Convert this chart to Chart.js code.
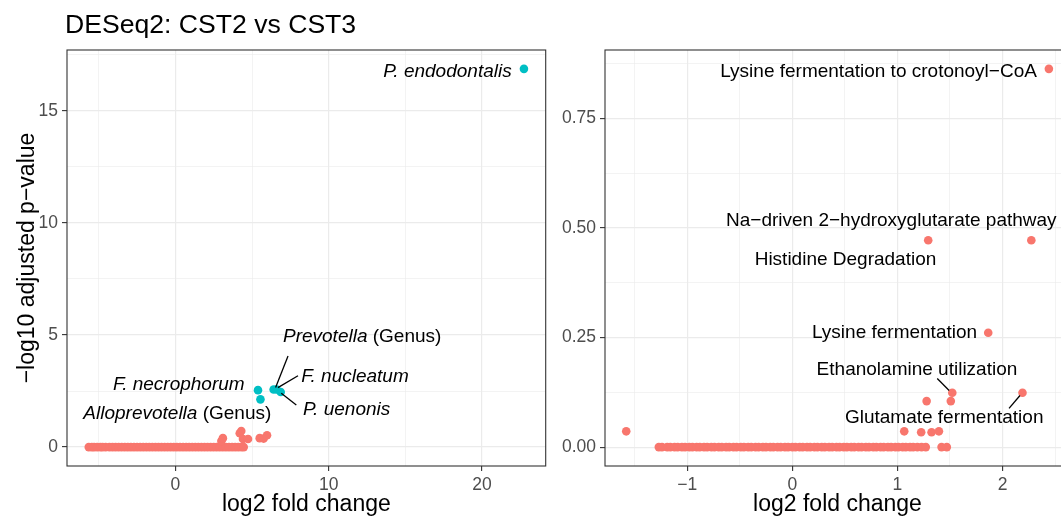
<!DOCTYPE html>
<html>
<head>
<meta charset="utf-8">
<script src="https://cdn.jsdelivr.net/npm/chart.js@4/dist/chart.umd.min.js"></script>
<style>
  html, body { margin: 0; padding: 0; background: #fff; width: 1061px; height: 520px; overflow: hidden; }
  #left { position: absolute; left: 0; top: 0; }
  #right { position: absolute; left: 555px; top: 0; }
</style>
</head>
<body>
<canvas id="left" width="550" height="520"></canvas>
<canvas id="right" width="520" height="520"></canvas>
<script>
// ====== DATA: left panel (taxa) ======
const TITLE = "DESeq2: CST2 vs CST3";

// non-significant taxa lying on the zero line
const taxaZeroX = [-5.65, -5.45, -5.3, -5.1, -4.9, -4.75, -4.55, -4.3, -4.1, -3.9, -3.7, -3.5, -3.3,
  -3.1, -2.9, -2.7, -2.5, -2.3, -2.1, -1.9, -1.7, -1.5, -1.3, -1.1, -0.9, -0.7, -0.5, -0.3, -0.1,
  0.1, 0.3, 0.5, 0.7, 0.9, 1.1, 1.3, 1.5, 1.7, 1.9, 2.1, 2.3, 2.5, 2.7, 2.9, 3.1, 3.3, 3.5, 3.7,
  3.9, 4.1, 4.3, 4.46];
// non-significant taxa slightly above zero
const taxaLowX = [3.0, 3.1, 4.2, 4.3, 4.41, 4.74, 5.5, 5.76, 5.98];
const taxaLowY = [0.27, 0.40, 0.62, 0.72, 0.36, 0.36, 0.40, 0.38, 0.53];
// significant taxa
const taxaSigNames = ["P. endodontalis", "F. necrophorum", "Alloprevotella (Genus)", "Prevotella (Genus)", "F. nucleatum", "P. uenonis"];
const taxaSigX = [22.74, 5.39, 5.55, 6.41, 6.61, 6.87];
const taxaSigY = [16.87, 2.54, 2.13, 2.57, 2.57, 2.46];

// ====== DATA: right panel (pathways) ======
const pathZeroX = [-1.27, -1.24, -1.19, -1.16, -1.12, -1.09, -1.05, -1.02, -0.98, -0.95, -0.91,
  -0.88, -0.84, -0.81, -0.77, -0.74, -0.70, -0.67, -0.63, -0.60, -0.56, -0.53, -0.49, -0.46,
  -0.42, -0.39, -0.35, -0.32, -0.28, -0.25, -0.21, -0.18, -0.14, -0.11, -0.07, -0.04, 0.0, 0.03,
  0.07, 0.10, 0.14, 0.17, 0.21, 0.24, 0.28, 0.31, 0.35, 0.38, 0.42, 0.45, 0.49, 0.52, 0.56, 0.59,
  0.63, 0.66, 0.70, 0.73, 0.77, 0.80, 0.84, 0.87, 0.91, 0.94, 0.98, 1.01, 1.05, 1.08, 1.12, 1.15,
  1.19, 1.23, 1.27, 1.42, 1.47];
const pathOtherX = [-1.58, 1.065, 1.226, 1.325, 1.395, 1.278, 1.508];
const pathOtherY = [0.036, 0.036, 0.034, 0.034, 0.036, 0.105, 0.105];
const pathNamedNames = ["Lysine fermentation to crotonoyl\u2212CoA", "Na\u2212driven 2\u2212hydroxyglutarate pathway",
  "Histidine Degradation", "Lysine fermentation", "Ethanolamine utilization", "Glutamate fermentation"];
const pathNamedX = [2.441, 2.274, 1.293, 1.864, 1.522, 2.19];
const pathNamedY = [0.863, 0.472, 0.472, 0.261, 0.124, 0.124];

// ====== AXES ======
const leftXTicks = [-5, 0, 5, 10, 15, 20];
const leftXMajor = [0, 10, 20];
const leftYTicks = [0, 2.5, 5, 7.5, 10, 12.5, 15, 17.5];
const leftYMajor = [0, 5, 10, 15];
const rightXTicks = [-1.5, -1, -0.5, 0, 0.5, 1, 1.5, 2, 2.5];
const rightXMajor = [-1, 0, 1, 2];
const rightYTicks = [0, 0.125, 0.25, 0.375, 0.5, 0.625, 0.75, 0.875];
const rightYMajor = [0, 0.25, 0.5, 0.75];

// ====== LABELS (anchor in data units) ======
// [parts, x, y, align]; parts = [[text, italic], ...]
const leftLabels = [
  [[["P. endodontalis", true]], 21.94, 16.52, "right"],
  [[["Prevotella", true], [" (Genus)", false]], 7.02, 4.67, "left"],
  [[["F. nucleatum", true]], 8.22, 2.91, "left"],
  [[["P. uenonis", true]], 8.32, 1.43, "left"],
  [[["F. necrophorum", true]], 4.52, 2.54, "right"],
  [[["Alloprevotella", true], [" (Genus)", false]], 6.26, 1.24, "right"],
];
const leftSegments = [
  [7.35, 4.06, 6.54, 2.66],
  [8.0, 3.18, 6.69, 2.65],
  [7.89, 1.88, 6.91, 2.40],
];
const rightLabels = [
  [[[pathNamedNames[0], false]], 2.327, 0.8455, "right"],
  [[[pathNamedNames[1], false]], 0.942, 0.5036, "center"],
  [[[pathNamedNames[2], false]], 0.506, 0.4164, "center"],
  [[[pathNamedNames[3], false]], 1.758, 0.25, "right"],
  [[[pathNamedNames[4], false]], 1.186, 0.1634, "center"],
  [[[pathNamedNames[5], false]], 1.445, 0.0556, "center"],
];
const rightSegments = [
  [1.379, 0.1566, 1.492, 0.1292],
  [2.062, 0.0882, 2.166, 0.1178],
];

const RED = "#F8766D";
const CYAN = "#00BFC4";
const FONT = "'Liberation Sans', Arial, sans-serif";
Chart.defaults.font.family = FONT;

const pts = (xs, ys) => xs.map((x, i) => ({ x, y: ys ? ys[i] : 0 }));
const fmtMinus = (v) => String(v).replace("-", "\u2212");

// panel frame, repel segments and labels
const decor = {
  id: "decor",
  afterDraw(chart, args, opts) {
    const { ctx, chartArea: a, scales: { x, y } } = chart;
    ctx.save();
    ctx.strokeStyle = "#333333";
    ctx.lineWidth = 1.1;
    ctx.strokeRect(a.left, a.top, a.right - a.left, a.bottom - a.top);

    ctx.strokeStyle = "#000";
    ctx.lineWidth = 1.3;
    for (const [x1, y1, x2, y2] of opts.segments) {
      ctx.beginPath();
      ctx.moveTo(x.getPixelForValue(x1), y.getPixelForValue(y1));
      ctx.lineTo(x.getPixelForValue(x2), y.getPixelForValue(y2));
      ctx.stroke();
    }

    ctx.fillStyle = "#000";
    ctx.textBaseline = "alphabetic";
    ctx.textAlign = "left";
    for (const [parts, lx, ly, align] of opts.labels) {
      const fonts = parts.map(p => (p[1] ? "italic " : "") + "19px " + FONT);
      let total = 0;
      parts.forEach((p, i) => { ctx.font = fonts[i]; total += ctx.measureText(p[0]).width; });
      let px = x.getPixelForValue(lx);
      if (align === "right") px -= total;
      else if (align === "center") px -= total / 2;
      const py = y.getPixelForValue(ly);
      parts.forEach((p, i) => {
        ctx.font = fonts[i];
        ctx.fillText(p[0], px, py);
        px += ctx.measureText(p[0]).width;
      });
    }

    if (opts.title) {
      ctx.font = "26.6px " + FONT;
      ctx.fillText(opts.title, 65, 33);
    }
    ctx.restore();
  }
};

function axis(ticks, major, min, max, fmt, fit, title) {
  return {
    type: "linear",
    min, max,
    afterBuildTicks: (s) => { s.ticks = ticks.map(v => ({ value: v })); },
    afterFit: fit,
    border: { display: false },
    grid: {
      color: "#ebebeb",
      lineWidth: (c) => (c.tick && major.includes(c.tick.value) ? 1.2 : 0.6),
      drawTicks: true,
      tickLength: 5,
      tickWidth: 1.1,
      tickColor: (c) => (c.tick && major.includes(c.tick.value) ? "#333333" : "rgba(0,0,0,0)"),
    },
    ticks: {
      autoSkip: false,
      maxRotation: 0,
      padding: 4,
      color: "#4d4d4d",
      font: { size: 17.5 },
      callback: (v) => (major.includes(v) ? fmt(v) : ""),
    },
    title: title,
  };
}

const xTitle = {
  display: true, text: "log2 fold change", color: "#000",
  font: { size: 23 }, padding: { top: 0, bottom: 2 },
};

new Chart(document.getElementById("left"), {
  type: "scatter",
  data: {
    datasets: [
      { data: pts(taxaZeroX).concat(pts(taxaLowX, taxaLowY)), backgroundColor: RED },
      { data: pts(taxaSigX, taxaSigY), backgroundColor: CYAN },
    ],
  },
  options: {
    responsive: false,
    animation: false,
    layout: { padding: { top: 50, right: 4, left: 0, bottom: 0 } },
    elements: { point: { radius: 4.3, borderWidth: 0 } },
    plugins: {
      legend: { display: false },
      tooltip: { enabled: false },
      decor: { labels: leftLabels, segments: leftSegments, title: TITLE },
    },
    scales: {
      x: axis(leftXTicks, leftXMajor, -7.07, 24.16, (v) => String(v), (s) => { s.height = 54; }, xTitle),
      y: axis(leftYTicks, leftYMajor, -0.843, 17.71, (v) => String(v), (s) => { s.width = 67; }, {
        display: true, text: "\u2212log10 adjusted p\u2212value", color: "#000",
        font: { size: 23 }, padding: { top: 14, bottom: 0 },
      }),
    },
  },
  plugins: [decor],
});

new Chart(document.getElementById("right"), {
  type: "scatter",
  data: {
    datasets: [
      { data: pts(pathZeroX).concat(pts(pathOtherX, pathOtherY), pts(pathNamedX, pathNamedY)), backgroundColor: RED },
    ],
  },
  options: {
    responsive: false,
    animation: false,
    layout: { padding: { top: 50, right: 5, left: 0, bottom: 0 } },
    elements: { point: { radius: 4.3, borderWidth: 0 } },
    plugins: {
      legend: { display: false },
      tooltip: { enabled: false },
      decor: { labels: rightLabels, segments: rightSegments },
    },
    scales: {
      x: axis(rightXTicks, rightXMajor, -1.782, 2.642, fmtMinus, (s) => { s.height = 54; }, xTitle),
      y: axis(rightYTicks, rightYMajor, -0.0431, 0.906, (v) => v.toFixed(2), (s) => { s.width = 50; }, { display: false }),
    },
  },
  plugins: [decor],
});
</script>
</body>
</html>
